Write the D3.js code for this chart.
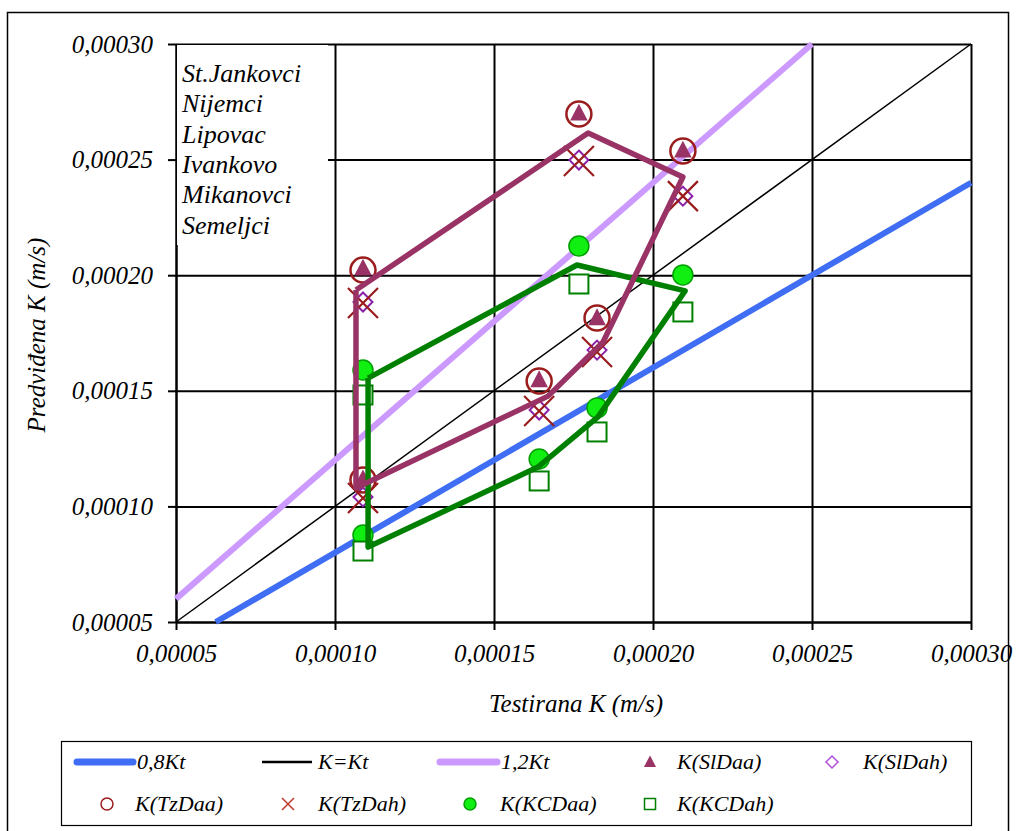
<!DOCTYPE html>
<html><head><meta charset="utf-8">
<script src="https://cdn.jsdelivr.net/npm/d3@7"></script>
<style>
body{margin:0;background:#fff}
svg{display:block}
text{font-family:"Liberation Serif","Times New Roman",serif;font-style:italic;fill:#000}
</style>
</head><body><svg id="c" width="1020" height="831"></svg>
<script>
const sites = ["St.Jankovci","Nijemci","Lipovac","Ivankovo","Mikanovci","Semeljci"];
const tickValues = [0.00005,0.00010,0.00015,0.00020,0.00025,0.00030];
const xTitle = "Testirana K (m/s)";
const yTitle = "Predviđena K (m/s)";
// tested K (x of markers)
const testedK = [0.0001088, 0.0001767, 0.0002094, 0.0001824, 0.0001642, 0.0001088];
const kSlDaa = [0.0002030, 0.0002700, 0.0002540, 0.0001815, 0.0001547, 0.0001118];
const kSlDah = [0.0001884, 0.0002498, 0.0002342, 0.0001676, 0.0001417, 0.0001041];
const kTzDaa = [0.0002022, 0.0002697, 0.0002537, 0.0001815, 0.0001542, 0.0001114];
const kTzDah = [0.0001880, 0.0002494, 0.0002342, 0.0001668, 0.0001413, 0.0001036];
const kKCDaa = [0.0001590, 0.0002126, 0.0002001, 0.0001426, 0.0001205, 0.0000876];
const kKCDah = [0.0001482, 0.0001962, 0.0001841, 0.0001322, 0.0001110, 0.0000807];
// connecting lines
const slLineX = [0.0001066, 0.0001796, 0.0002094, 0.0001843, 0.0001670, 0.0001066, 0.0001066];
const slLineY = [0.0001936, 0.0002615, 0.0002425, 0.0001711, 0.0001477, 0.0001080, 0.0001936];
const kcLineX = [0.0001104, 0.0001761, 0.0002101, 0.0001827, 0.0001638, 0.0001104, 0.0001104];
const kcLineY = [0.0001555, 0.0002044, 0.0001932, 0.0001387, 0.0001170, 0.0000824, 0.0001555];
const refFactors = [0.8, 1.0, 1.2];
const refNames = ["0,8Kt", "K=Kt", "1,2Kt"];

const svg = d3.select("#c");
const x = d3.scaleLinear().domain([0.00005, 0.00030]).range([176, 971]);
const y = d3.scaleLinear().domain([0.00005, 0.00030]).range([622, 44]);
const fmt = v => d3.format(".5f")(v).replace(".", ",");

// outer border
svg.append("rect").attr("x",7.5).attr("y",12.5).attr("width",1001).attr("height",830)
  .attr("fill","#fff").attr("stroke","#000").attr("stroke-width",1.5);

// gridlines
const gx = svg.append("g").attr("transform","translate(0,622)")
  .call(d3.axisBottom(x).tickValues(tickValues).tickSize(-578).tickFormat(""));
const gy = svg.append("g").attr("transform","translate(176,0)")
  .call(d3.axisLeft(y).tickValues(tickValues).tickSize(-795).tickFormat(""));
[gx,gy].forEach(g=>{g.select(".domain").remove();g.selectAll("line").attr("stroke","#000").attr("stroke-width",2);});

// axes with ticks + labels
const ax = svg.append("g").attr("transform","translate(0,622)")
  .call(d3.axisBottom(x).tickValues(tickValues).tickSizeInner(8).tickSizeOuter(0).tickPadding(14).tickFormat(fmt));
const ay = svg.append("g").attr("transform","translate(176,0)")
  .call(d3.axisLeft(y).tickValues(tickValues).tickSizeInner(8).tickSizeOuter(0).tickPadding(15).tickFormat(fmt));
[ax,ay].forEach(g=>{
  g.select(".domain").attr("stroke","#000").attr("stroke-width",2);
  g.selectAll("line").attr("stroke","#000").attr("stroke-width",2);
  g.selectAll("text").attr("font-family",null).attr("font-size",null)
   .style("font-family",'"Liberation Serif",serif').style("font-style","italic").style("font-size","25px").attr("fill","#000");
});

// site label box
svg.append("rect").attr("x",177).attr("y",45).attr("width",151).attr("height",200).attr("fill","#fff");
svg.append("g").selectAll("text").data(sites).join("text")
  .attr("x",182).attr("y",(d,i)=>82+i*30.3).style("font-size","26px").text(d=>d);

// reference lines
const refColors = ["#3f6df4","#000","#cc99ff"];
const refWidths = [6,1.5,6];
const dom = x.domain();
[0,1,2].forEach(i=>{
  const f = refFactors[i];
  const x0 = Math.max(dom[0], dom[0]/f), x1 = Math.min(dom[1], dom[1]/f);
  svg.append("line").attr("x1",x(x0)).attr("y1",y(f*x0)).attr("x2",x(x1)).attr("y2",y(f*x1))
    .attr("stroke",refColors[i]).attr("stroke-width",refWidths[i]).attr("stroke-linecap","butt");
});

// marker shapes
const DRED = "#9a1c1c", PLUM = "#993366", DPURP = "#8a22a8", GREEN = "#008000";
function triangle(g, cx, cy, s, fill){
  g.append("path").attr("d",`M${cx},${cy-s*0.6}L${cx+s*0.55},${cy+s*0.45}L${cx-s*0.55},${cy+s*0.45}Z`).attr("fill",fill);
}
function diamond(g,cx,cy,s,stroke,sw){
  g.append("path").attr("d",`M${cx},${cy-s}L${cx+s},${cy}L${cx},${cy+s}L${cx-s},${cy}Z`).attr("fill","#fff").attr("stroke",stroke).attr("stroke-width",sw);
}
function cross(g,cx,cy,s,stroke,sw){
  g.append("path").attr("d",`M${cx-s},${cy-s}L${cx+s},${cy+s}M${cx+s},${cy-s}L${cx-s},${cy+s}`).attr("stroke",stroke).attr("stroke-width",sw).attr("fill","none");
}
function ring(g,cx,cy,r,stroke,sw){
  g.append("circle").attr("cx",cx).attr("cy",cy).attr("r",r).attr("fill","none").attr("stroke",stroke).attr("stroke-width",sw);
}
function dot(g,cx,cy,r){
  g.append("circle").attr("cx",cx).attr("cy",cy).attr("r",r).attr("fill","#11ee11").attr("stroke","#00a000").attr("stroke-width",1.5);
}
function square(g,cx,cy,s,sw){
  g.append("rect").attr("x",cx-s).attr("y",cy-s).attr("width",2*s).attr("height",2*s).attr("fill","#fff").attr("stroke",GREEN).attr("stroke-width",sw);
}

const mk = svg.append("g");
testedK.forEach((t,i)=>{ triangle(mk, x(t), y(kSlDaa[i]), 16, PLUM); });
testedK.forEach((t,i)=>{ diamond(mk, x(t), y(kSlDah[i]), 9.5, DPURP, 2); });
testedK.forEach((t,i)=>{ ring(mk, x(t), y(kTzDaa[i]), 12.5, DRED, 2.5); });
testedK.forEach((t,i)=>{ cross(mk, x(t), y(kTzDah[i]), 15, DRED, 2.2); });
testedK.forEach((t,i)=>{ dot(mk, x(t), y(kKCDaa[i]), 10); });
testedK.forEach((t,i)=>{ square(mk, x(t), y(kKCDah[i]), 9.5, 2); });

// connecting lines
const line = d3.line().x(d=>x(d[0])).y(d=>y(d[1])).curve(d3.curveLinear);
svg.append("path").attr("d", line(d3.zip(kcLineX,kcLineY))).attr("fill","none").attr("stroke",GREEN).attr("stroke-width",5.5).attr("stroke-linejoin","round");
svg.append("path").attr("d", line(d3.zip(slLineX,slLineY))).attr("fill","none").attr("stroke",PLUM).attr("stroke-width",5.5).attr("stroke-linejoin","round");

// axis titles
svg.append("text").attr("x",576).attr("y",712).attr("text-anchor","middle").style("font-size","25px").text(xTitle);
svg.append("text").attr("transform","translate(45,335) rotate(-90)").attr("text-anchor","middle").style("font-size","25px").text(yTitle);

// legend
const lg = svg.append("g");
lg.append("rect").attr("x",61.5).attr("y",741.5).attr("width",910).attr("height",84).attr("fill","#fff").attr("stroke","#000").attr("stroke-width",1.2);
const r1 = 762, r2 = 804;
const lineSyms = [[77,133,137],[262,312,318],[440,497,501]];
lineSyms.forEach((p,i)=>{
  lg.append("line").attr("x1",p[0]).attr("x2",p[1]).attr("y1",r1).attr("y2",r1).attr("stroke",refColors[i])
    .attr("stroke-width", i===1?2.5:7).attr("stroke-linecap", i===1?"butt":"round");
  lg.append("text").attr("x",p[2]).attr("y",r1+7).style("font-size","22px").text(refNames[i]);
});
triangle(lg, 650, r1, 11, PLUM);
lg.append("text").attr("x",677).attr("y",r1+7).style("font-size","22px").text("K(SlDaa)");
diamond(lg, 832, r1, 6, "#b452d8", 1.5);
lg.append("text").attr("x",863).attr("y",r1+7).style("font-size","22px").text("K(SlDah)");
ring(lg, 107, r2, 6, DRED, 1.5);
lg.append("text").attr("x",135).attr("y",r2+7).style("font-size","22px").text("K(TzDaa)");
cross(lg, 288, r2, 6, "#c0392b", 1.5);
lg.append("text").attr("x",318).attr("y",r2+7).style("font-size","22px").text("K(TzDah)");
dot(lg, 470, r2, 6);
lg.append("text").attr("x",500).attr("y",r2+7).style("font-size","22px").text("K(KCDaa)");
square(lg, 650, r2, 5.5, 1.5);
lg.append("text").attr("x",677).attr("y",r2+7).style("font-size","22px").text("K(KCDah)");
</script>
</body></html>
